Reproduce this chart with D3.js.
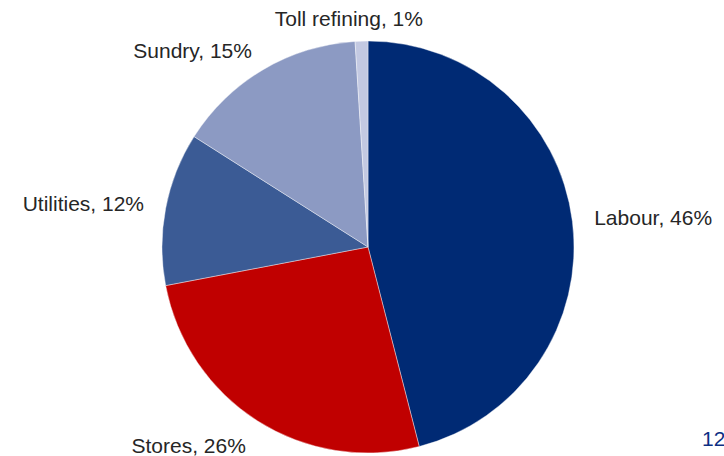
<!DOCTYPE html>
<html>
<head>
<meta charset="utf-8">
<script src="https://cdn.jsdelivr.net/npm/d3@7/dist/d3.min.js"></script>
<style>
  html, body { margin: 0; padding: 0; background: #ffffff; }
  svg { display: block; }
  text { font-family: "Liberation Sans", Arial, sans-serif; }
</style>
</head>
<body>
<svg id="chart" width="724" height="456"></svg>
<script>
// Cost breakdown (% of total)
const categories = ["Labour", "Stores", "Utilities", "Sundry", "Toll refining"];
const shares = [46, 26, 12, 15, 1];
const colours = ["#002A74", "#C00000", "#3B5B95", "#8C9AC3", "#C3C9E2"];
const pageNumber = "12";

const width = 724, height = 456;
const cx = 368, cy = 247, radius = 206;

const svg = d3.select("#chart");
const g = svg.append("g").attr("transform", `translate(${cx},${cy})`);

const pie = d3.pie().value(d => d.value).sort(null);
const arc = d3.arc().innerRadius(0).outerRadius(radius);

const data = categories.map((c, i) => ({ name: c, value: shares[i], colour: colours[i] }));
const arcs = pie(data);

g.selectAll("path.slice")
  .data(arcs)
  .join("path")
  .attr("class", "slice")
  .attr("d", arc)
  .attr("fill", d => d.data.colour)
  .attr("stroke", "#ffffff")
  .attr("stroke-width", 0.4);

// Outside-end labels placed along each slice's mid-angle
const labelR = radius + 22;
g.selectAll("text.label")
  .data(arcs)
  .join("text")
  .attr("class", "label")
  .each(function(d) {
    const a = (d.startAngle + d.endAngle) / 2;
    const s = Math.sin(a), c = Math.cos(a);
    let x = s * labelR, y = -c * labelR;
    let anchor = Math.abs(s) < 0.2 ? "middle" : (s > 0 ? "start" : "end");
    if (anchor === "middle") { x -= 12; }
    // labels below the centre sit a bit lower
    const dy = c < -0.5 ? 13 : 7;
    d3.select(this)
      .attr("x", x)
      .attr("y", y + dy)
      .attr("text-anchor", anchor);
  })
  .attr("font-size", 21)
  .attr("fill", "#262626")
  .text(d => `${d.data.name}, ${d.data.value}%`);

svg.append("text")
  .attr("x", 702)
  .attr("y", 446)
  .attr("font-size", 21)
  .attr("fill", "#0D2F84")
  .text(pageNumber);
</script>
</body>
</html>
